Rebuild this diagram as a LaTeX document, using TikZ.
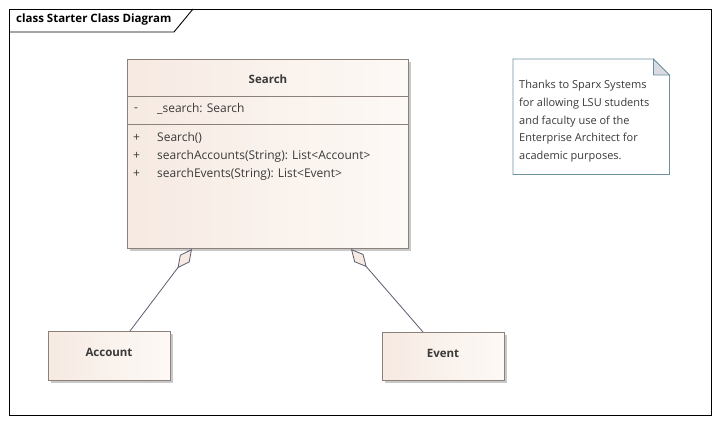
\documentclass[tikz,border=0pt]{standalone}
\usepackage{fontspec}
\setmainfont{Open Sans}
\usetikzlibrary{arrows.meta,calc,shadows}
\definecolor{clsborder}{HTML}{8C807A}
\definecolor{clsleft}{HTML}{F6EAE2}
\definecolor{clsright}{HTML}{FDF9F6}
\definecolor{txt}{HTML}{3A3A3A}
\definecolor{linkcol}{HTML}{5C5C70}
\definecolor{noteborder}{HTML}{6F8FA3}
\definecolor{notefold}{HTML}{D9DDE1}
\begin{document}
\begin{tikzpicture}[x=1pt,y=-1pt,
  umlclass/.style={draw=clsborder,line width=0.8pt,left color=clsleft,right color=clsright,
    rectangle,anchor=north west,inner sep=0pt,
    drop shadow={shadow xshift=3pt,shadow yshift=-3pt,fill=black!35,opacity=0.6}},
  clsname/.style={font=\bfseries\fontsize{11.5}{13}\selectfont,text=txt},
  member/.style={font=\fontsize{12}{14}\selectfont,text=txt,anchor=west,inner sep=0pt},
  notetext/.style={font=\fontsize{11}{17.8}\selectfont,text=txt,align=left,anchor=north west,inner sep=0pt},
  aggr/.style={draw=linkcol,line width=0.8pt,-{Diamond[open,fill=clsleft,length=24pt,width=12pt]}}
]
\useasboundingbox (0,0) rectangle (718,423);
\fill[white] (0,0) rectangle (718,423);

% diagram frame with its name tab
\draw[line width=0.9pt,black] (9,9) rectangle (711,415);
\draw[line width=0.9pt,black] (9,32) -- (174,32) -- (193,9);
\node[font=\bfseries\fontsize{11.5}{13}\selectfont,anchor=west,inner sep=0pt] (title) at (16,20) {class Starter Class Diagram};

% class Search
\node[umlclass,minimum width=281pt,minimum height=189pt] (search) at (127,59) {};
\draw[clsborder,line width=0.8pt] (127,96) -- (408,96);
\draw[clsborder,line width=0.8pt] (127,124) -- (408,124);
\node[clsname] (searchname) at (268,79) {Search};
\node[member] (attrvis) at (134,110) {-};
\node[member] (attr) at (157,109) {\_search: Search};
\node[member] (opvis1) at (133,138) {+};
\node[member] (op1) at (157,138) {Search()};
\node[member] (opvis2) at (133,156) {+};
\node[member] (op2) at (157,156) {searchAccounts(String): List<Account>};
\node[member] (opvis3) at (133,174) {+};
\node[member] (op3) at (157,174) {searchEvents(String): List<Event>};

% classes Account and Event
\node[umlclass,minimum width=122pt,minimum height=49pt] (account) at (48,331) {};
\node[clsname] (accountname) at (109,352) {Account};
\node[umlclass,minimum width=122pt,minimum height=48pt] (event) at (382,332) {};
\node[clsname] (eventname) at (443,353) {Event};

% aggregations into Search
\coordinate (accEnd) at (130,331);
\coordinate (evEnd) at (423,332);
\coordinate (searchA) at (192,249);
\coordinate (searchE) at (351,249);
\draw[aggr] (accEnd) -- (searchA);
\draw[aggr] (evEnd) -- (searchE);

% note with folded corner
\node[anchor=north west,minimum width=156pt,minimum height=115pt,inner sep=0pt] (note) at (513,59) {};
\draw[noteborder,line width=0.8pt,fill=white]
  (note.north west) -- ($(note.north east)+(-16,0)$) -- ($(note.north east)+(0,16)$)
  -- (note.south east) -- (note.south west) -- cycle;
\draw[noteborder,line width=0.8pt,fill=notefold]
  ($(note.north east)+(-16,0)$) -- ($(note.north east)+(-16,16)$) -- ($(note.north east)+(0,16)$) -- cycle;
\node[notetext] (notetxt) at (519,80) {Thanks to Sparx Systems\\for allowing LSU students\\and faculty use of the\\Enterprise Architect for\\academic purposes.};
\end{tikzpicture}
\end{document}
